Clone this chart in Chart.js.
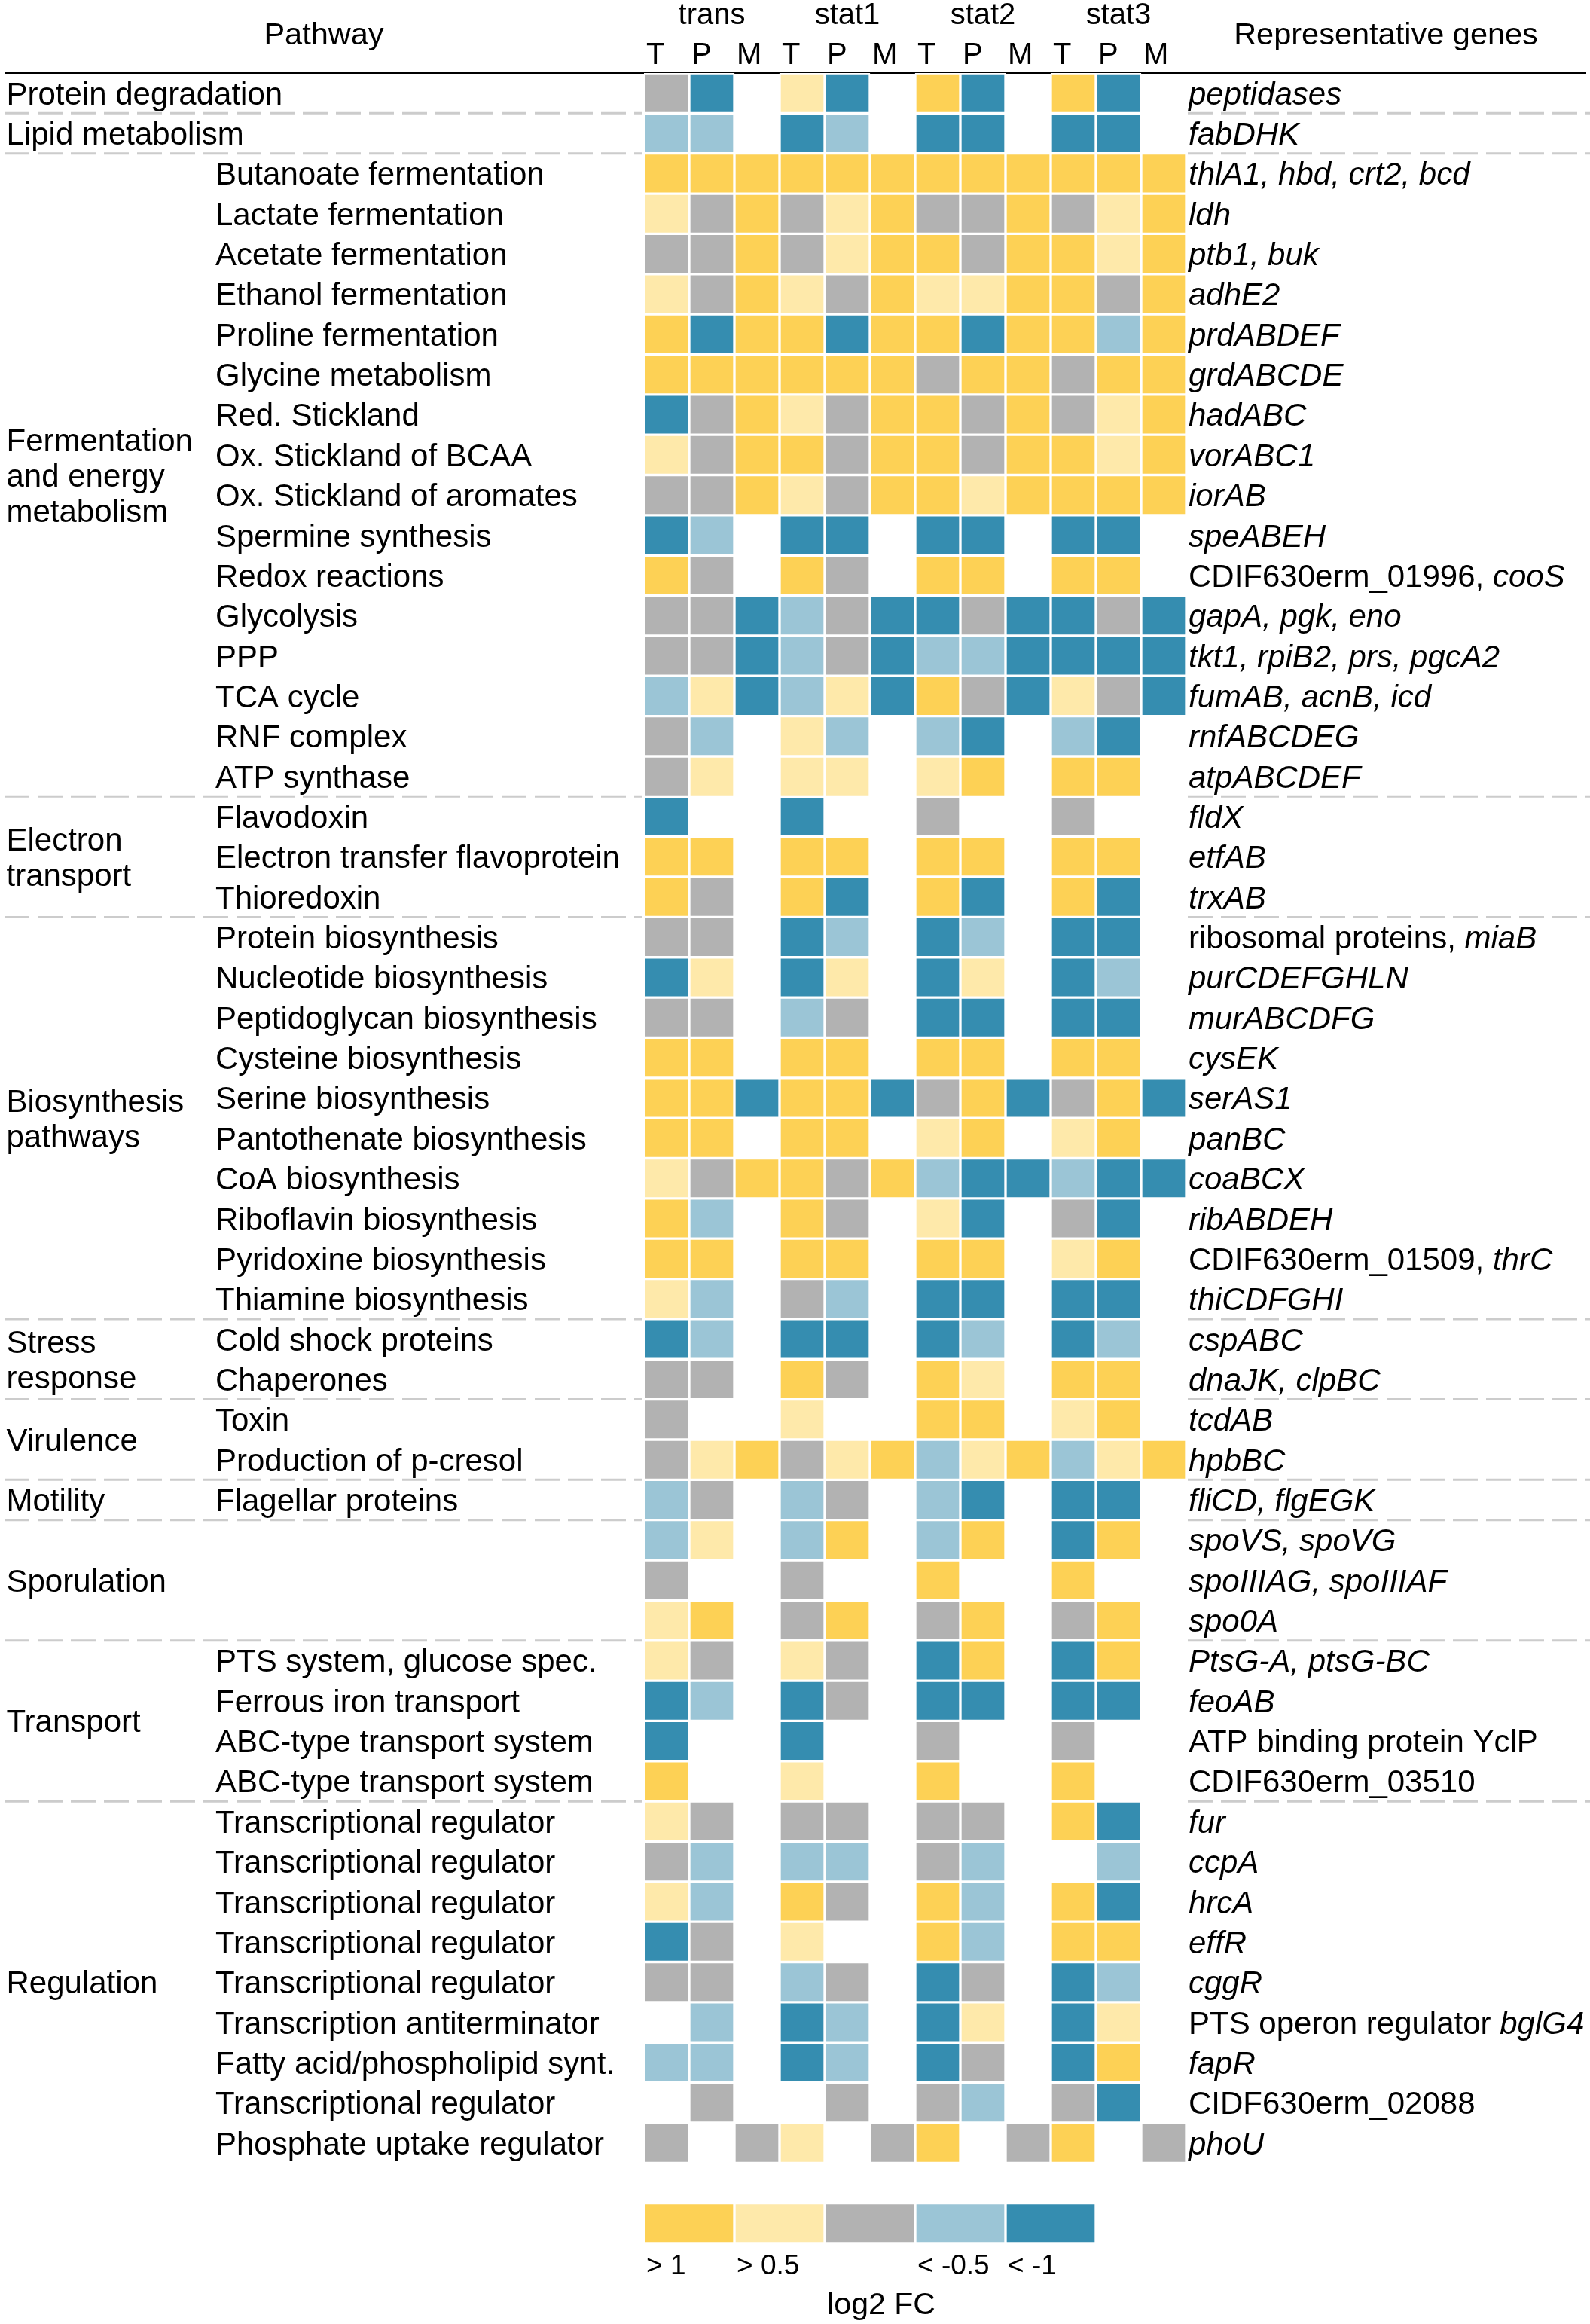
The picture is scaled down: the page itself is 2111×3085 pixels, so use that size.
<!DOCTYPE html>
<html>
<head>
<meta charset="utf-8">
<script src="https://cdn.jsdelivr.net/npm/chart.js@4.4.1/dist/chart.umd.min.js"></script>
<style>
  html, body { margin: 0; padding: 0; background: #fff; }
  #wrap { width: 2111px; height: 3085px; }
</style>
</head>
<body>
<div id="wrap"><canvas id="heatmap" width="2111" height="3085"></canvas></div>
<script>
var _ = null; // not detected / no value

// log2 FC classes: 2 = > 1, 1 = > 0.5, 0 = in between, -1 = < -0.5, -2 = < -1
var conditions = ["trans", "stat1", "stat2", "stat3"];
var phases = ["T", "P", "M"];

var pathways = [
  "", "",
  "Butanoate fermentation", "Lactate fermentation", "Acetate fermentation",
  "Ethanol fermentation", "Proline fermentation", "Glycine metabolism",
  "Red. Stickland", "Ox. Stickland of BCAA", "Ox. Stickland of aromates",
  "Spermine synthesis", "Redox reactions", "Glycolysis", "PPP", "TCA cycle",
  "RNF complex", "ATP synthase",
  "Flavodoxin", "Electron transfer flavoprotein", "Thioredoxin",
  "Protein biosynthesis", "Nucleotide biosynthesis", "Peptidoglycan biosynthesis",
  "Cysteine biosynthesis", "Serine biosynthesis", "Pantothenate biosynthesis",
  "CoA biosynthesis", "Riboflavin biosynthesis", "Pyridoxine biosynthesis",
  "Thiamine biosynthesis",
  "Cold shock proteins", "Chaperones",
  "Toxin", "Production of p-cresol",
  "Flagellar proteins",
  "", "", "",
  "PTS system, glucose spec.", "Ferrous iron transport",
  "ABC-type transport system", "ABC-type transport system",
  "Transcriptional regulator", "Transcriptional regulator", "Transcriptional regulator",
  "Transcriptional regulator", "Transcriptional regulator", "Transcription antiterminator",
  "Fatty acid/phospholipid synt.", "Transcriptional regulator", "Phosphate uptake regulator"
];

// *...* = italic part
var genes = [
  "*peptidases*", "*fabDHK*", "*thlA1, hbd, crt2, bcd*", "*ldh*", "*ptb1, buk*",
  "*adhE2*", "*prdABDEF*", "*grdABCDE*", "*hadABC*", "*vorABC1*", "*iorAB*",
  "*speABEH*", "CDIF630erm_01996, *cooS*", "*gapA, pgk, eno*", "*tkt1, rpiB2, prs, pgcA2*",
  "*fumAB, acnB, icd*", "*rnfABCDEG*", "*atpABCDEF*", "*fldX*", "*etfAB*", "*trxAB*",
  "ribosomal proteins, *miaB*", "*purCDEFGHLN*", "*murABCDFG*", "*cysEK*", "*serAS1*",
  "*panBC*", "*coaBCX*", "*ribABDEH*", "CDIF630erm_01509, *thrC*", "*thiCDFGHI*",
  "*cspABC*", "*dnaJK, clpBC*", "*tcdAB*", "*hpbBC*", "*fliCD, flgEGK*",
  "*spoVS, spoVG*", "*spoIIIAG, spoIIIAF*", "*spo0A*", "*PtsG-A, ptsG-BC*", "*feoAB*",
  "ATP binding protein YclP", "CDIF630erm_03510", "*fur*", "*ccpA*", "*hrcA*", "*effR*",
  "*cggR*", "PTS operon regulator *bglG4*", "*fapR*", "CIDF630erm_02088", "*phoU*"
];

var groupNames = [
  "Protein degradation", "Lipid metabolism", "Fermentation\nand energy\nmetabolism",
  "Electron\ntransport", "Biosynthesis\npathways", "Stress\nresponse", "Virulence",
  "Motility", "Sporulation", "Transport", "Regulation"
];
var groupStart = [0, 1, 2, 18, 21, 31, 33, 35, 36, 39, 43];
var groupEnd   = [0, 1, 17, 20, 30, 32, 34, 35, 38, 42, 51];

var transT = [0,-1,2,1,0,1,2,2,-2,1, 0,-2,2,0,0,-1,0,0,-2,2, 2,0,-2,0,2,2,2,1,2,2, 1,-2,0,0,0,-1,-1,0,1,1, -2,-2,2,1,0,1,-2,0,_,-1, _,0];
var transP = [-2,-1,2,0,0,0,-2,2,0,0, 0,-1,0,0,0,1,-1,1,_,2, 0,0,1,0,2,2,2,0,-1,2, -1,-1,0,_,1,0,1,_,2,0, -1,_,_,0,-1,-1,0,0,-1,-1, 0,_];
var transM = [_,_,2,2,2,2,2,2,2,2, 2,_,_,-2,-2,-2,_,_,_,_, _,_,_,_,_,-2,_,2,_,_, _,_,_,_,2,_,_,_,_,_, _,_,_,_,_,_,_,_,_,_, _,0];
var stat1T = [1,-2,2,0,0,1,2,2,1,2, 1,-2,2,-1,-1,-1,1,1,-2,2, 2,-2,-2,-1,2,2,2,2,2,2, 0,-2,2,1,0,-1,-1,0,0,1, -2,-2,1,0,-1,2,1,-1,-2,-2, _,1];
var stat1P = [-2,-1,2,1,1,0,-2,2,0,0, 0,-2,0,0,0,1,-1,1,_,2, -2,-1,1,0,2,2,2,0,0,2, -1,-2,0,_,1,0,2,_,2,0, 0,_,_,0,-1,0,_,0,-1,-1, 0,_];
var stat1M = [_,_,2,2,2,2,2,2,2,2, 2,_,_,-2,-2,-2,_,_,_,_, _,_,_,_,_,-2,_,2,_,_, _,_,_,_,2,_,_,_,_,_, _,_,_,_,_,_,_,_,_,_, _,0];
var stat2T = [2,-2,2,0,2,1,2,0,2,2, 2,-2,2,-2,-1,2,-1,1,0,2, 2,-2,-2,-2,2,0,1,-1,1,2, -2,-2,2,2,-1,-1,-1,2,0,-2, -2,0,2,0,0,2,2,-2,-2,-2, 0,2];
var stat2P = [-2,-2,2,0,0,1,-2,2,0,0, 1,-2,2,0,-1,0,-2,2,_,2, -2,-1,1,-2,2,2,2,-2,-2,2, -2,-1,1,2,1,-2,2,_,2,2, -2,_,_,0,-1,-1,-1,0,1,0, -1,_];
var stat2M = [_,_,2,2,2,2,2,2,2,2, 2,_,_,-2,-2,-2,_,_,_,_, _,_,_,_,_,-2,_,-2,_,_, _,_,_,_,2,_,_,_,_,_, _,_,_,_,_,_,_,_,_,_, _,0];
var stat3T = [2,-2,2,0,2,2,2,0,0,2, 2,-2,2,-2,-2,1,-1,2,0,2, 2,-2,-2,-2,2,0,1,-1,0,1, -2,-2,2,1,-1,-2,-2,2,0,-2, -2,0,2,2,_,2,2,-2,-2,-2, 0,2];
var stat3P = [-2,-2,2,1,1,0,-1,2,1,1, 2,-2,2,0,-2,0,-2,2,_,2, -2,-2,-1,-2,2,2,2,-2,-2,2, -2,-1,2,2,1,-2,2,_,2,2, -2,_,_,-2,-1,-2,2,-1,1,2, -2,_];
var stat3M = [_,_,2,2,2,2,2,2,2,2, 2,_,_,-2,-2,-2,_,_,_,_, _,_,_,_,_,-2,_,-2,_,_, _,_,_,_,2,_,_,_,_,_, _,_,_,_,_,_,_,_,_,_, _,0];

var legendLevels = [2, 1, 0, -1, -2];
var legendLabels = ["> 1", "> 0.5", "", "< -0.5", "< -1"];
var legendTitle = "log2 FC";

var columns = [transT, transP, transM, stat1T, stat1P, stat1M,
               stat2T, stat2P, stat2M, stat3T, stat3P, stat3M];

function levelColor(v) {
  switch (v) {
    case 2: return "#fdd155";
    case 1: return "#fee9aa";
    case 0: return "#b2b2b2";
    case -1: return "#9bc5d6";
    case -2: return "#358db0";
    default: return "rgba(0,0,0,0)";
  }
}

var FONT = '"Liberation Sans", Arial, sans-serif';
var nRows = pathways.length;       // 52 rows
var legendRow = nRows + 1;         // one empty row, then the legend
var rowLabels = genes.concat(["", legendTitle]);

var datasets = [];
columns.forEach(function (values, c) {
  var data = values.map(function (v) { return v === null ? null : [c, c + 1]; });
  data.push(null, null);
  datasets.push({
    label: conditions[Math.floor(c / 3)] + " " + phases[c % 3],
    data: data,
    backgroundColor: values.map(levelColor).concat(["", ""])
  });
});
legendLevels.forEach(function (lv, k) {
  var data = rowLabels.map(function () { return null; });
  data[legendRow] = [2 * k, 2 * k + 2];
  datasets.push({ label: legendLabels[k], data: data, backgroundColor: levelColor(lv) });
});

function drawRich(ctx, text, x, y, size) {
  var parts = text.split("*");
  for (var i = 0; i < parts.length; i++) {
    if (!parts[i]) continue;
    ctx.font = (i % 2 ? "italic " : "") + size + "px " + FONT;
    ctx.fillText(parts[i], x, y);
    x += ctx.measureText(parts[i]).width;
  }
}

var tablePlugin = {
  id: "tableText",
  beforeDatasetsDraw: function (chart) {
    var ctx = chart.ctx, xs = chart.scales.x, ys = chart.scales.y;
    var half = (ys.getPixelForValue(1) - ys.getPixelForValue(0)) / 2;
    var gridL = xs.getPixelForValue(0), gridR = xs.getPixelForValue(12);
    ctx.save();
    // header rule
    ctx.strokeStyle = "#000";
    ctx.lineWidth = 3;
    ctx.beginPath();
    ctx.moveTo(6, ys.getPixelForValue(0) - half - 0.5);
    ctx.lineTo(2106, ys.getPixelForValue(0) - half - 0.5);
    ctx.stroke();
    // dashed separators between pathway groups
    ctx.strokeStyle = "#cccccc";
    ctx.setLineDash([33, 11]);
    for (var g = 0; g < groupEnd.length - 1; g++) {
      var yb = ys.getPixelForValue(groupEnd[g]) + half;
      ctx.beginPath();
      ctx.moveTo(6, yb); ctx.lineTo(gridL - 3, yb);
      ctx.moveTo(gridR + 2, yb); ctx.lineTo(2111, yb);
      ctx.stroke();
    }
    ctx.restore();
  },
  afterDatasetsDraw: function (chart) {
    var ctx = chart.ctx, xs = chart.scales.x, ys = chart.scales.y;
    var gridR = xs.getPixelForValue(12);
    ctx.save();
    ctx.fillStyle = "#000";
    ctx.textBaseline = "alphabetic";

    // column headers
    ctx.font = "41.5px " + FONT;
    ctx.textAlign = "center";
    ctx.fillText("Pathway", 430, 59);
    ctx.fillText("Representative genes", 1840, 59);
    ctx.font = "40px " + FONT;
    conditions.forEach(function (name, k) {
      ctx.fillText(name, xs.getPixelForValue(3 * k + 1.5), 32);
    });
    ctx.textAlign = "left";
    for (var c = 0; c < 12; c++) {
      ctx.fillText(phases[c % 3], xs.getPixelForValue(c) + 3, 85);
    }

    // pathway groups
    ctx.font = "42px " + FONT;
    groupNames.forEach(function (name, g) {
      var lines = name.split("\n");
      var mid = (ys.getPixelForValue(groupStart[g]) + ys.getPixelForValue(groupEnd[g])) / 2;
      lines.forEach(function (line, k) {
        ctx.fillText(line, 8.5, mid + 15 + (k - (lines.length - 1) / 2) * 47);
      });
    });

    // pathways and genes per row
    for (var r = 0; r < nRows; r++) {
      var yc = ys.getPixelForValue(r) + 15;
      ctx.font = "42px " + FONT;
      if (pathways[r]) ctx.fillText(pathways[r], 286, yc);
      drawRich(ctx, genes[r], gridR + 3, yc, 42);
    }

    // legend labels
    var ly = ys.getPixelForValue(legendRow);
    ctx.font = "37px " + FONT;
    legendLabels.forEach(function (lab, k) {
      if (lab) ctx.fillText(lab, xs.getPixelForValue(2 * k) + 3, ly + 68);
    });
    ctx.font = "41px " + FONT;
    ctx.textAlign = "center";
    ctx.fillText(legendTitle, xs.getPixelForValue(5.25), ly + 120.5);
    ctx.restore();
  }
};

new Chart(document.getElementById("heatmap").getContext("2d"), {
  type: "bar",
  data: { labels: rowLabels, datasets: datasets },
  options: {
    indexAxis: "y",
    responsive: false,
    devicePixelRatio: 1,
    animation: false,
    events: [],
    layout: { padding: { left: 855, right: 536, top: 97, bottom: 107 } },
    datasets: {
      bar: {
        grouped: false,
        barPercentage: 1,
        categoryPercentage: 1,
        borderWidth: 2,
        borderColor: "#ffffff",
        borderSkipped: false
      }
    },
    scales: {
      x: { type: "linear", min: 0, max: 12, display: false },
      y: { type: "category", offset: true, display: false }
    },
    plugins: { legend: { display: false }, tooltip: { enabled: false } }
  },
  plugins: [tablePlugin]
});
</script>
</body>
</html>
